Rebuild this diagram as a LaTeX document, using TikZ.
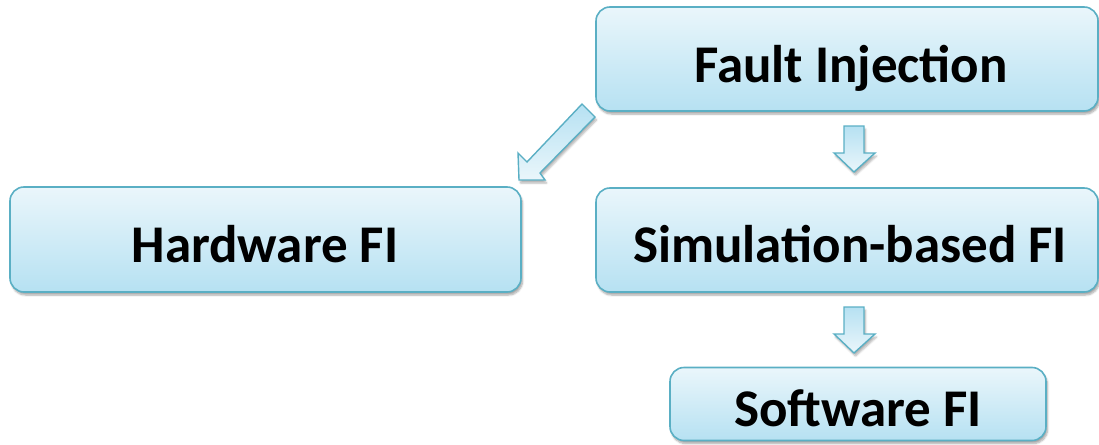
\documentclass[tikz,border=0pt]{standalone}
\usepackage{fontspec}
\setmainfont{Carlito}
\usetikzlibrary{shadows.blur}
\definecolor{edgeblue}{HTML}{5AAFC4}
\definecolor{topfill}{HTML}{EAF6FB}
\definecolor{botfill}{HTML}{B6E1F2}
\tikzset{
  box/.style={draw=edgeblue, line width=1.6pt, rounded corners=14pt,
    top color=topfill, bottom color=botfill, inner sep=0pt,
    blur shadow={shadow xshift=1.5pt, shadow yshift=-3pt, shadow blur steps=6, shadow opacity=35}},
  lbl/.style={anchor=base, font=\fontsize{53}{58}\selectfont\bfseries, text=black},
  blockarrow/.style={draw=edgeblue, line width=1.4pt, line join=miter,
    top color=botfill, bottom color=topfill,
    blur shadow={shadow xshift=1.5pt, shadow yshift=-3pt, shadow blur steps=5, shadow opacity=30}}
}
\begin{document}
\begin{tikzpicture}[x=1pt,y=-1pt]
\useasboundingbox (0,0) rectangle (1099,444);
% boxes
\node[box, minimum width=502pt, minimum height=104pt] (fi) at (847,59) {};
\node[box, minimum width=502pt, minimum height=104pt] (sim) at (847,240) {};
\node[box, minimum width=511pt, minimum height=105pt] (hw) at (265.5,239.5) {};
\node[box, minimum width=376pt, minimum height=73pt] (sw) at (858,404) {};
% labels
\node[lbl] (tfi) at (851,82) {Fault Injection};
\node[lbl] (tsim) at (850,262) {Simulation-based FI};
\node[lbl] (thw) at (265,262) {Hardware FI};
\node[lbl] (tsw) at (858,426) {Software FI};
% block arrows
\draw[blockarrow] (582,104) -- (595,117) -- (540,173) -- (545,180) -- (519,180)
  -- (518,153) -- (527,162) -- cycle;
\draw[blockarrow] (844,126) -- (864,126) -- (864,153) -- (875,153) -- (854,172)
  -- (834,153) -- (844,153) -- cycle;
\draw[blockarrow] (844,307) -- (864,307) -- (864,334) -- (875,334) -- (854,353)
  -- (834,334) -- (844,334) -- cycle;
\end{tikzpicture}
\end{document}
